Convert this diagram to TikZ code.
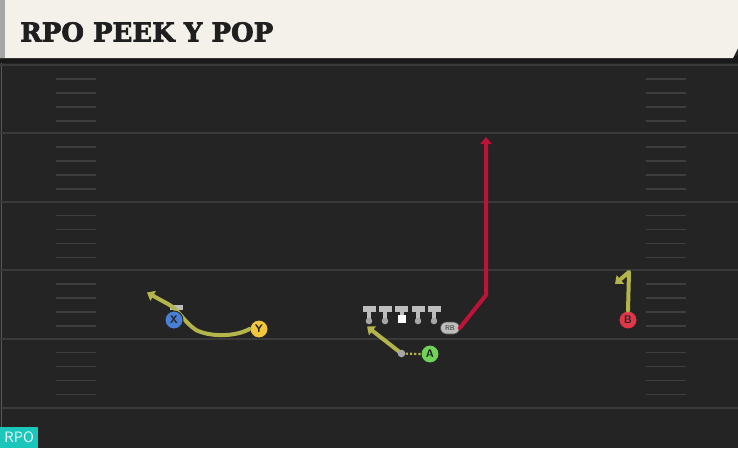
\documentclass[tikz,border=0pt]{standalone}
\usepackage{fontspec}
\setmainfont{DejaVu Sans}
\newfontfamily\titlefont[FakeBold=2.5]{DejaVu Serif}
\usetikzlibrary{arrows.meta,shapes.misc}
\definecolor{field}{HTML}{242424}
\definecolor{yardc}{HTML}{3A3A3A}
\definecolor{hashc}{HTML}{3E3E3E}
\definecolor{cream}{HTML}{F4F1EA}
\definecolor{routey}{HTML}{B3B54A}
\definecolor{router}{HTML}{BE1238}
\definecolor{pblue}{HTML}{4A7FD6}
\definecolor{pyellow}{HTML}{F2C53D}
\definecolor{pgreen}{HTML}{6FD35A}
\definecolor{pred}{HTML}{E0364A}
\definecolor{teal}{HTML}{1BC7BA}
\definecolor{lineman}{HTML}{BDBDBD}
\tikzset{
  player/.style={circle,draw=black!85,line width=0.9pt,minimum size=18pt,inner sep=0pt,
    font=\sffamily\bfseries\fontsize{11}{11}\selectfont,text=black!85},
  route/.style={line width=4pt,line cap=round,line join=round},
  motion/.style={line width=2.2pt,dotted},
  tip/.style={-{Triangle[width=11pt,length=7pt]}},
  yard/.style={yardc,line width=2pt},
  hash/.style={hashc,line width=1.5pt},
}
\begin{document}
\begin{tikzpicture}[x=1pt,y=-1pt]
\useasboundingbox (0,0) rectangle (738,448);
\fill[field] (0,0) rectangle (738,448);
\fill[black!90] (0,56) rectangle (738,63);
\draw[black!65,line width=1.2pt] (1.5,63) -- (1.5,448);
% yard lines
\foreach \y in {65,133,201.5,270,338.5,408}{\draw[yard] (0,\y) -- (738,\y);}
% hash marks
\foreach \b in {65,133,201.5,270,338.5}{
  \foreach \o in {14,28,42,56}{
    \draw[hash] (56,\b+\o) -- (96,\b+\o);
    \draw[hash] (646,\b+\o) -- (686,\b+\o);
  }}
% header
\fill[cream] (0,0) -- (738,0) -- (738,48) -- (733,58) -- (0,58) -- cycle;
\fill[black!35] (0,0) rectangle (5,58);
\node[anchor=west,inner sep=0pt,text=black!88] (title) at (20,32)
  {\titlefont\bfseries\fontsize{26}{26}\selectfont RPO PEEK Y POP};
% RPO tag
\node[fill=teal,anchor=south west,minimum width=38pt,minimum height=21pt,inner sep=0pt,
  text=white,font=\sffamily\fontsize{15}{15}\selectfont] (tag) at (0,448) {RPO};
% offensive line
\foreach \i/\x in {1/369,2/385,4/418,5/434}{
  \fill[lineman] (\x-6.5,306) rectangle (\x+6.5,311.5);
  \fill[lineman] (\x-2,311) rectangle (\x+2,320);
  \fill[black!35] (\x,321) circle (3.3);
  \coordinate (ol\i) at (\x,321);
}
\fill[lineman] (401.5-6.5,306) rectangle (401.5+6.5,311.5);
\fill[lineman] (401.5-2,311) rectangle (401.5+2,315);
\node[fill=white,minimum size=8pt,inner sep=0pt] (center) at (401.5,318.5) {};
% X block marker
\fill[lineman] (169.5,304.5) rectangle (182.5,310);
% routes
\coordinate (ytip) at (147,292.5);
\coordinate (atip) at (367,326.5);
\coordinate (adot) at (401.5,353.5);
\coordinate (rbturn) at (486,295);
\coordinate (rbtip) at (486,137);
\coordinate (bturn) at (629,272);
\coordinate (btip) at (615,284);
\node[player,fill=pyellow] (Y) at (259,329) {Y};
\node[player,fill=pgreen] (A) at (430,354) {A};
\node[player,fill=pred] (B) at (628,320) {B};
\node[rounded rectangle,fill=lineman,draw=black!70,line width=0.6pt,minimum width=21pt,minimum height=12pt,inner sep=1pt,
  font=\sffamily\fontsize{7}{7}\selectfont,text=black!80] (RB) at (450,328) {RB};
\draw[route,routey,tip] (Y.west) .. controls (235,337) and (210,337) .. (196,330)
  .. controls (184,322) and (178,309) .. (168,304) -- (ytip);
\node[player,fill=pblue] (X) at (174,320) {X};
\draw[motion,routey] (A.west) -- (adot);
\draw[route,routey,tip] (adot) -- (atip);
\fill[black!35] (adot) circle (3.8);
\draw[route,router,tip] (RB.east) -- (rbturn) -- (rbtip);
\draw[route,routey,tip] (B.north) -- (bturn) -- (btip);
\end{tikzpicture}
\end{document}
